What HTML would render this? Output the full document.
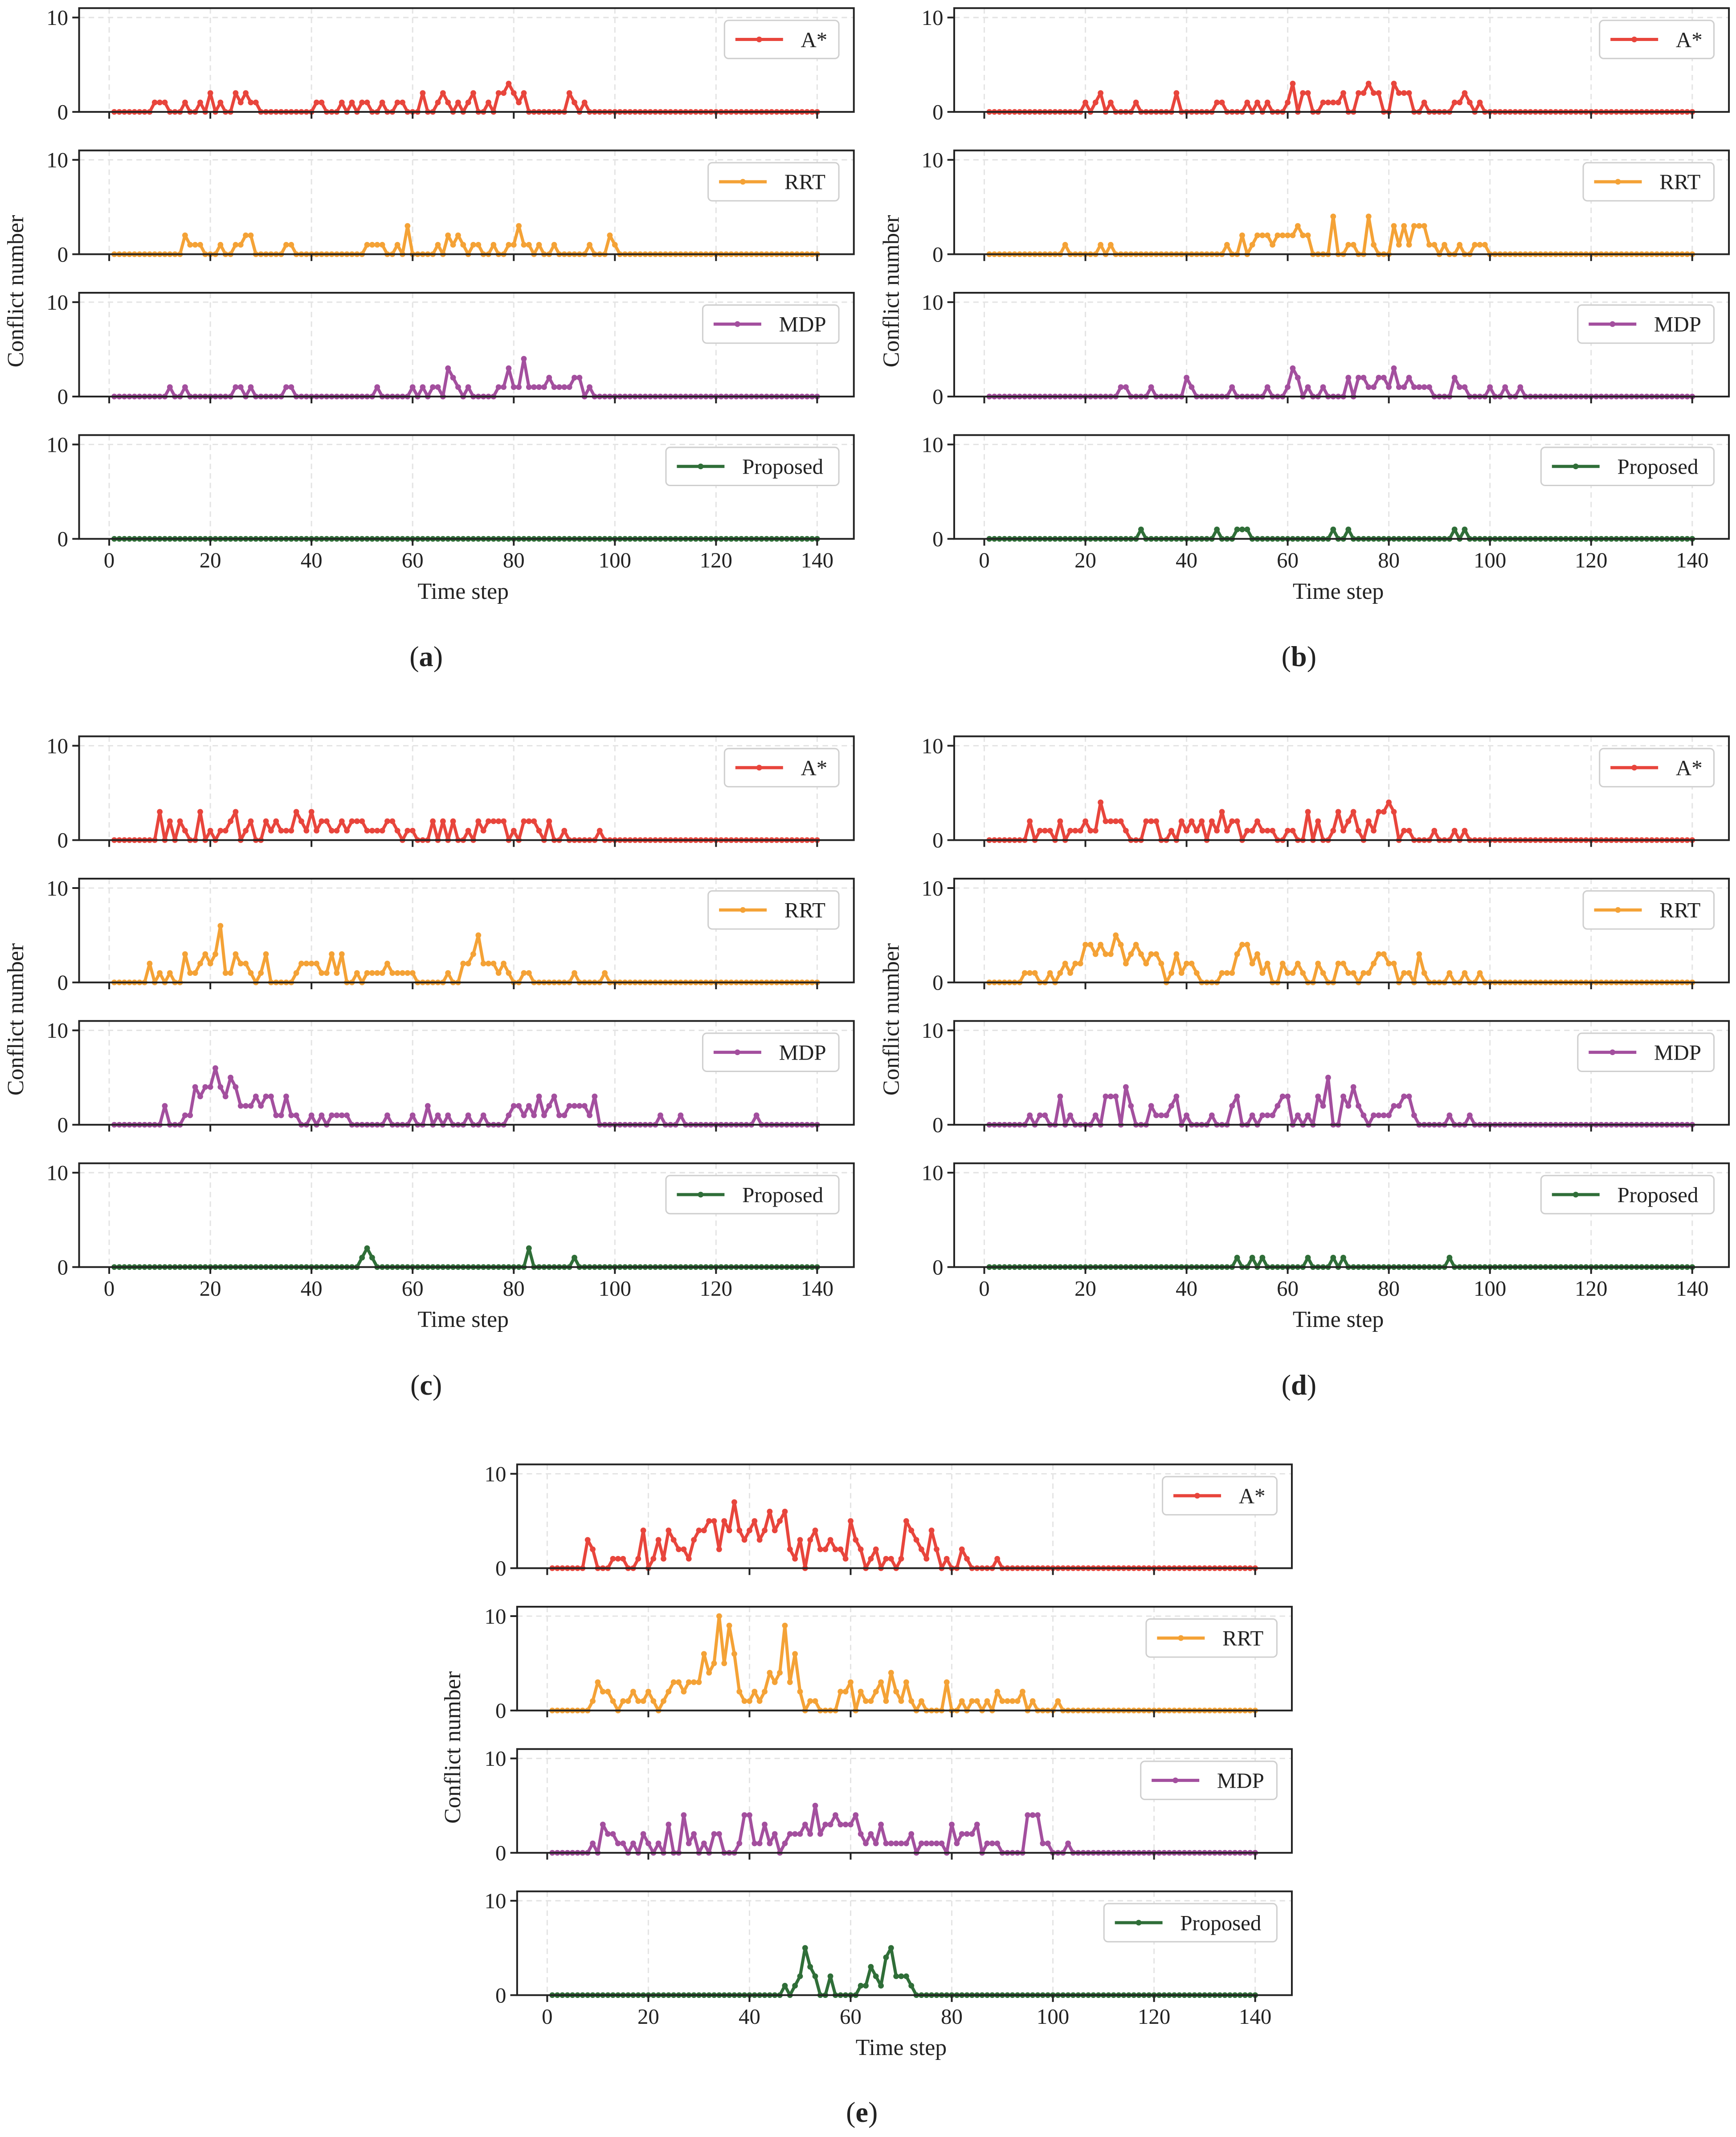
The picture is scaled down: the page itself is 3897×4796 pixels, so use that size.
<!DOCTYPE html>
<html><head><meta charset="utf-8">
<style>
html,body{margin:0;padding:0;background:#fff;}
svg{display:block;}
text{font-family:"Liberation Serif",serif;fill:#222;}
</style></head>
<body>
<svg id="fig" xmlns="http://www.w3.org/2000/svg" width="3897" height="4796" viewBox="0 0 1275 1569"></svg>
<script>
// ---------- data (sparse: [time step, conflicts]; unlisted steps are 0) ----------
const xTicks = [0,20,40,60,80,100,120,140];
const yTicks = [0,10];
const methodNames = ["A*","RRT","MDP","Proposed"];

const a_astar = [[9,1],[10,1],[11,1],[15,1],[18,1],[20,2],[22,1],[25,2],[26,1],[27,2],[28,1],[29,1],[41,1],[42,1],[46,1],[48,1],[50,1],[51,1],[54,1],[57,1],[58,1],[62,2],[65,1],[66,2],[67,1],[69,1],[71,1],[72,2],[75,1],[77,2],[78,2],[79,3],[80,2],[81,1],[82,2],[91,2],[92,1],[94,1]];
const a_rrt = [[15,2],[16,1],[17,1],[18,1],[22,1],[25,1],[26,1],[27,2],[28,2],[35,1],[36,1],[51,1],[52,1],[53,1],[54,1],[57,1],[59,3],[65,1],[67,2],[68,1],[69,2],[70,1],[72,1],[73,1],[76,1],[79,1],[80,1],[81,3],[82,1],[83,1],[85,1],[88,1],[95,1],[99,2],[100,1]];
const a_mdp = [[12,1],[15,1],[25,1],[26,1],[28,1],[35,1],[36,1],[53,1],[60,1],[62,1],[64,1],[65,1],[67,3],[68,2],[69,1],[71,1],[77,1],[78,1],[79,3],[80,1],[81,1],[82,4],[83,1],[84,1],[85,1],[86,1],[87,2],[88,1],[89,1],[90,1],[91,1],[92,2],[93,2],[95,1]];
const a_prop = [];

const b_astar = [[20,1],[22,1],[23,2],[25,1],[30,1],[38,2],[46,1],[47,1],[52,1],[54,1],[56,1],[60,1],[61,3],[63,2],[64,2],[67,1],[68,1],[69,1],[70,1],[71,2],[74,2],[75,2],[76,3],[77,2],[78,2],[81,3],[82,2],[83,2],[84,2],[87,1],[93,1],[94,1],[95,2],[96,1],[98,1]];
const b_rrt = [[16,1],[23,1],[25,1],[48,1],[51,2],[53,1],[54,2],[55,2],[56,2],[57,1],[58,2],[59,2],[60,2],[61,2],[62,3],[63,2],[64,2],[69,4],[72,1],[73,1],[76,4],[77,1],[81,3],[82,1],[83,3],[84,1],[85,3],[86,3],[87,3],[88,1],[89,1],[91,1],[94,1],[97,1],[98,1],[99,1]];
const b_mdp = [[27,1],[28,1],[33,1],[40,2],[41,1],[49,1],[56,1],[60,1],[61,3],[62,2],[64,1],[67,1],[72,2],[74,2],[75,2],[76,1],[77,1],[78,2],[79,2],[80,1],[81,3],[82,1],[83,1],[84,2],[85,1],[86,1],[87,1],[88,1],[93,2],[94,1],[95,1],[100,1],[103,1],[106,1]];
const b_prop = [[31,1],[46,1],[50,1],[51,1],[52,1],[69,1],[72,1],[93,1],[95,1]];

const c_astar = [[10,3],[12,2],[14,2],[15,1],[18,3],[20,1],[22,1],[23,1],[24,2],[25,3],[27,1],[28,2],[31,2],[32,1],[33,2],[34,1],[35,1],[36,1],[37,3],[38,2],[39,1],[40,3],[41,1],[42,2],[43,2],[44,1],[45,1],[46,2],[47,1],[48,2],[49,2],[50,2],[51,1],[52,1],[53,1],[54,1],[55,2],[56,2],[57,1],[59,1],[60,1],[64,2],[66,2],[68,2],[71,1],[73,2],[74,1],[75,2],[76,2],[77,2],[78,2],[80,1],[82,2],[83,2],[84,2],[85,1],[87,2],[90,1],[97,1]];
const c_rrt = [[8,2],[10,1],[12,1],[15,3],[16,1],[17,1],[18,2],[19,3],[20,2],[21,3],[22,6],[23,1],[24,1],[25,3],[26,2],[27,2],[28,1],[30,1],[31,3],[37,1],[38,2],[39,2],[40,2],[41,2],[42,1],[43,1],[44,3],[45,1],[46,3],[49,1],[51,1],[52,1],[53,1],[54,1],[55,2],[56,1],[57,1],[58,1],[59,1],[60,1],[67,1],[70,2],[71,2],[72,3],[73,5],[74,2],[75,2],[76,2],[77,1],[78,2],[79,1],[82,1],[83,1],[92,1],[98,1]];
const c_mdp = [[11,2],[15,1],[16,1],[17,4],[18,3],[19,4],[20,4],[21,6],[22,4],[23,3],[24,5],[25,4],[26,2],[27,2],[28,2],[29,3],[30,2],[31,3],[32,3],[33,1],[34,1],[35,3],[36,1],[37,1],[40,1],[42,1],[44,1],[45,1],[46,1],[47,1],[55,1],[60,1],[63,2],[65,1],[67,1],[71,1],[74,1],[79,1],[80,2],[81,2],[82,1],[83,2],[84,1],[85,3],[86,1],[87,2],[88,3],[89,1],[90,1],[91,2],[92,2],[93,2],[94,2],[95,1],[96,3],[109,1],[113,1],[128,1]];
const c_prop = [[50,1],[51,2],[52,1],[83,2],[92,1]];

const d_astar = [[9,2],[11,1],[12,1],[13,1],[15,2],[17,1],[18,1],[19,1],[20,2],[21,1],[22,1],[23,4],[24,2],[25,2],[26,2],[27,2],[28,1],[32,2],[33,2],[34,2],[37,1],[39,2],[40,1],[41,2],[42,1],[43,2],[45,2],[46,1],[47,3],[48,1],[49,2],[50,2],[52,1],[53,1],[54,2],[55,1],[56,1],[57,1],[60,1],[61,1],[64,3],[66,2],[69,1],[70,3],[71,1],[72,2],[73,3],[74,1],[76,2],[77,1],[78,3],[79,3],[80,4],[81,3],[83,1],[84,1],[89,1],[93,1],[95,1]];
const d_rrt = [[8,1],[9,1],[10,1],[13,1],[15,1],[16,2],[17,1],[18,2],[19,2],[20,4],[21,4],[22,3],[23,4],[24,3],[25,3],[26,5],[27,4],[28,2],[29,3],[30,4],[31,3],[32,2],[33,3],[34,3],[35,2],[37,1],[38,3],[39,1],[40,2],[41,2],[42,1],[47,1],[48,1],[49,1],[50,3],[51,4],[52,4],[53,2],[54,3],[55,1],[56,2],[59,2],[60,1],[61,1],[62,2],[63,1],[66,2],[67,1],[70,2],[71,2],[72,1],[73,1],[75,1],[76,1],[77,2],[78,3],[79,3],[80,2],[81,2],[83,1],[84,1],[86,3],[87,1],[92,1],[95,1],[98,1]];
const d_mdp = [[9,1],[11,1],[12,1],[15,3],[17,1],[22,1],[24,3],[25,3],[26,3],[28,4],[29,2],[33,2],[34,1],[35,1],[36,1],[37,2],[38,3],[40,1],[45,1],[49,2],[50,3],[53,1],[55,1],[56,1],[57,1],[58,2],[59,3],[60,3],[62,1],[64,1],[66,3],[67,2],[68,5],[71,3],[72,2],[73,4],[74,2],[75,1],[77,1],[78,1],[79,1],[80,1],[81,2],[82,2],[83,3],[84,3],[85,1],[92,1],[96,1]];
const d_prop = [[50,1],[53,1],[55,1],[64,1],[69,1],[71,1],[92,1]];

const e_astar = [[8,3],[9,2],[13,1],[14,1],[15,1],[18,1],[19,4],[21,1],[22,3],[23,1],[24,4],[25,3],[26,2],[27,2],[28,1],[29,3],[30,4],[31,4],[32,5],[33,5],[34,2],[35,5],[36,4],[37,7],[38,4],[39,3],[40,4],[41,5],[42,3],[43,4],[44,6],[45,4],[46,5],[47,6],[48,2],[49,1],[50,3],[52,3],[53,4],[54,2],[55,2],[56,3],[57,2],[58,2],[59,1],[60,5],[61,3],[62,2],[64,1],[65,2],[67,1],[68,1],[70,1],[71,5],[72,4],[73,3],[74,2],[75,1],[76,4],[77,2],[79,1],[82,2],[83,1],[89,1]];
const e_rrt = [[9,1],[10,3],[11,2],[12,2],[13,1],[15,1],[16,1],[17,2],[18,1],[19,1],[20,2],[21,1],[23,1],[24,2],[25,3],[26,3],[27,2],[28,3],[29,3],[30,3],[31,6],[32,4],[33,5],[34,10],[35,5],[36,9],[37,6],[38,2],[39,1],[40,1],[41,2],[42,1],[43,2],[44,4],[45,3],[46,4],[47,9],[48,3],[49,6],[50,2],[52,1],[53,1],[58,2],[59,2],[60,3],[62,2],[63,1],[64,1],[65,2],[66,3],[67,1],[68,4],[69,2],[70,1],[71,3],[72,1],[74,1],[79,3],[82,1],[84,1],[85,1],[87,1],[89,2],[90,1],[91,1],[92,1],[93,1],[94,2],[96,1],[101,1]];
const e_mdp = [[9,1],[11,3],[12,2],[13,2],[14,1],[15,1],[17,1],[19,2],[20,1],[22,1],[24,3],[27,4],[28,1],[29,2],[31,1],[33,2],[34,2],[38,1],[39,4],[40,4],[41,1],[42,1],[43,3],[44,1],[45,2],[47,1],[48,2],[49,2],[50,2],[51,3],[52,2],[53,5],[54,2],[55,3],[56,3],[57,4],[58,3],[59,3],[60,3],[61,4],[62,2],[63,1],[64,2],[65,1],[66,3],[67,1],[68,1],[69,1],[70,1],[71,1],[72,2],[74,1],[75,1],[76,1],[77,1],[78,1],[80,3],[81,1],[82,2],[83,2],[84,2],[85,3],[87,1],[88,1],[89,1],[95,4],[96,4],[97,4],[98,1],[99,1],[103,1]];
const e_prop = [[47,1],[49,1],[50,2],[51,5],[52,3],[53,2],[56,2],[62,1],[63,1],[64,3],[65,2],[66,1],[67,4],[68,5],[69,2],[70,2],[71,2],[72,1]];

// ---------- rendering ----------
const svg = document.getElementById('fig');
const NS = "http://www.w3.org/2000/svg";
const colors = ["#e8453c","#f4a236","#a34f9e","#2f6e38"];
const legendW = [84,96,100,127];

function mk(tag, attrs, parent){
  const e = document.createElementNS(NS, tag);
  for (const k in attrs) e.setAttribute(k, attrs[k]);
  (parent||svg).appendChild(e);
  return e;
}
function fullSeries(sparse){
  const v = new Array(141).fill(0);
  sparse.forEach(p => { v[p[0]] = p[1]; });
  return v;
}

const ROWH = 76.2, XPAD = 22.1, XU = 3.714, YU = 6.93;

function drawPanel(key, left, tops, seriesList, letter, capX, capY, ylabX){
  const g = mk('g', {});
  
  
  const right = left + 569;
  const xs = t => left + XPAD + t * XU;
  tops.forEach((top, i) => {
    const bottom = top + ROWH;
    const ys = v => bottom - v * YU;
    const sg = mk('g', {}, g);
    
    
    xTicks.forEach(t => {
      const l = mk('line', {x1:xs(t), x2:xs(t), y1:top, y2:bottom, stroke:'#e4e4e4', 'stroke-width':1, 'stroke-dasharray':'4,3'}, sg);
      
      
    });
    yTicks.forEach(v => {
      const l = mk('line', {x1:left, x2:right, y1:ys(v), y2:ys(v), stroke:'#e4e4e4', 'stroke-width':1, 'stroke-dasharray':'4,3'}, sg);
      
      
    });
    const vals = fullSeries(seriesList[i]);
    let d = '';
    for (let t = 1; t <= 140; t++) d += (t === 1 ? 'M' : 'L') + xs(t).toFixed(2) + ',' + ys(vals[t]).toFixed(2);
    const path = mk('path', {d:d, fill:'none', stroke:colors[i], 'stroke-width':2.3, 'stroke-linejoin':'round'}, sg);
    
    
    for (let t = 1; t <= 140; t++){
      const c = mk('circle', {cx:xs(t), cy:ys(vals[t]), r:2.1, fill:colors[i]}, sg);
      
      
    }
    const fr = mk('rect', {x:left, y:top, width:569, height:ROWH, fill:'none', stroke:'#222', 'stroke-width':1.3}, sg);
    
    
    yTicks.forEach(v => {
      mk('line', {x1:left-5, x2:left, y1:ys(v), y2:ys(v), stroke:'#222', 'stroke-width':1.3}, sg);
      const tx = mk('text', {x:left-8, y:ys(v)+5.5, 'font-size':16, 'text-anchor':'end'}, sg);
      tx.textContent = v;
      
      
    });
    xTicks.forEach(t => {
      mk('line', {x1:xs(t), x2:xs(t), y1:bottom, y2:bottom+5, stroke:'#222', 'stroke-width':1.3}, sg);
      if (i === 3){
        const tx = mk('text', {x:xs(t), y:bottom+21, 'font-size':16, 'text-anchor':'middle'}, sg);
        tx.textContent = t;
        
        
      }
    });
    const lw = legendW[i], lx = right - 11 - lw, ly = top + 9;
    const lg = mk('g', {}, sg);
    
    
    mk('rect', {x:lx, y:ly, width:lw, height:28, rx:3, fill:'#fff', stroke:'#cfcfcf', 'stroke-width':1}, lg);
    mk('line', {x1:lx+8, x2:lx+43, y1:ly+14, y2:ly+14, stroke:colors[i], 'stroke-width':2.3}, lg);
    mk('circle', {cx:lx+25.5, cy:ly+14, r:2.1, fill:colors[i]}, lg);
    const lt = mk('text', {x:lx+56, y:ly+19.5, 'font-size':16}, lg);
    lt.textContent = methodNames[i];
  });
  const bottomLast = tops[3] + ROWH;
  const xl = mk('text', {x:left + XPAD + 70*XU, y:bottomLast+44, 'font-size':17, 'text-anchor':'middle'}, g);
  xl.textContent = 'Time step';
  
  
  const midY = (tops[0] + bottomLast) / 2 + 13;
  const yl = mk('text', {x:ylabX, y:midY, 'font-size':17, 'text-anchor':'middle', transform:'rotate(-90 ' + ylabX + ' ' + midY + ')'}, g);
  yl.textContent = 'Conflict number';
  
  
  const cp = mk('text', {x:capX, y:capY, 'font-size':21, 'text-anchor':'middle'}, g);
  
  
  const s1 = mk('tspan', {}, cp); s1.textContent = '(';
  const s2 = mk('tspan', {'font-weight':'bold'}, cp); s2.textContent = letter;
  const s3 = mk('tspan', {}, cp); s3.textContent = ')';
}

const topsA = [5.9,110.4,214.9,319.4];
const shift = (arr, d) => arr.map(v => v + d);
drawPanel('a', 58.1, topsA, [a_astar,a_rrt,a_mdp,a_prop], 'a', 313, 489, 17);
drawPanel('b', 700.8, topsA, [b_astar,b_rrt,b_mdp,b_prop], 'b', 954, 489, 660);
drawPanel('c', 58.1, shift(topsA,534.7), [c_astar,c_rrt,c_mdp,c_prop], 'c', 313, 1024, 17);
drawPanel('d', 700.8, shift(topsA,534.7), [d_astar,d_rrt,d_mdp,d_prop], 'd', 954, 1024, 660);
drawPanel('e', 379.8, shift(topsA,1069.3), [e_astar,e_rrt,e_mdp,e_prop], 'e', 633, 1558, 338);
</script>
</body></html>
